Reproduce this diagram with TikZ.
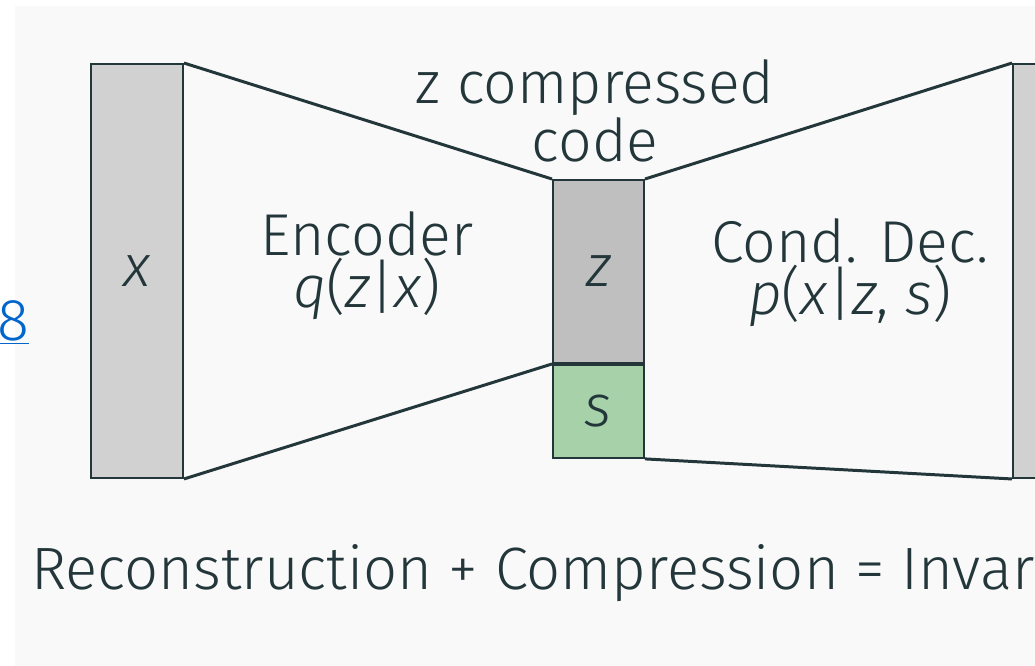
\documentclass[tikz,border=0pt]{standalone}
\usepackage{fontspec}
\setmainfont{Fira Sans Light}
\usetikzlibrary{positioning}
\definecolor{inkteal}{HTML}{23373B}
\definecolor{barfill}{HTML}{D1D1D1}
\definecolor{codefill}{HTML}{BFBFBF}
\definecolor{sidefill}{HTML}{A6D1A9}
\definecolor{pagebg}{HTML}{F9F9F9}
\definecolor{linkblue}{HTML}{0066CC}
\newcommand{\mvar}[1]{\textit{#1}}
\tikzset{
  data bar/.style={
    rectangle, draw=inkteal, line width=1.1pt, fill=barfill, inner sep=0pt,
    minimum width=1.84cm, minimum height=8.28cm, text=inkteal
  },
  code box/.style={
    rectangle, draw=inkteal, line width=1.1pt, fill=codefill, inner sep=0pt,
    minimum width=1.82cm, minimum height=3.66cm, text=inkteal
  },
  side box/.style={
    rectangle, draw=inkteal, line width=1.1pt, fill=sidefill, inner sep=0pt,
    minimum width=1.82cm, minimum height=1.86cm, text=inkteal
  },
  funnel/.style={draw=inkteal, line width=1.7pt},
  caption/.style={text=inkteal, align=center, inner sep=0pt}
}

\begin{document}
\begin{tikzpicture}[font=\fontsize{33.6}{27}\selectfont]
  % ------------------------------------------------
  % page background
  % ------------------------------------------------
  \clip (0,0) rectangle (20.7,-13.32);
  \fill[white] (0,0) rectangle (20.7,-13.32);
  \fill[pagebg] (0.3,-0.12) rectangle (20.7,-13.32);

  % ------------------------------------------------
  % input, code and output blocks
  % ------------------------------------------------
  \node[data bar] (xbar) at (2.74,-5.42) {\mvar{x}};
  \node[code box] (zbox) at (11.97,-5.43) {\mvar{z}};
  \node[side box, below=0pt of zbox] (sbox) {\mvar{s}};
  \node[data bar, anchor=west] (rbar) at (20.24,-5.42) {};

  % encoder / decoder outlines
  \draw[funnel] (xbar.north east) -- (zbox.north west);
  \draw[funnel] (xbar.south east) -- (zbox.south west);
  \draw[funnel] (zbox.north east) -- (rbar.north west);
  \draw[funnel] (sbox.south east) -- (rbar.south west);

  % ------------------------------------------------
  % labels
  % ------------------------------------------------
  \node[caption] (codelbl) at (11.9,-2.22) {z compressed\\code};
  \node[caption] (enclbl)  at (7.34,-5.32) {Encoder\\\mvar{q}(\mvar{z}|\mvar{x})};
  \node[caption] (declbl)  at (17.0,-5.46) {Cond. Dec.\\\mvar{p}(\mvar{x}|\mvar{z}, \mvar{s})};
  \node[caption, anchor=west, font=\fontsize{34}{27}\selectfont] (motto) at (0.62,-11.46)
    {Reconstruction + Compression = Invar};
  \node[text=linkblue, inner sep=0pt] (reflink) at (0.27,-6.45) {\underline{8}};
\end{tikzpicture}
\end{document}
